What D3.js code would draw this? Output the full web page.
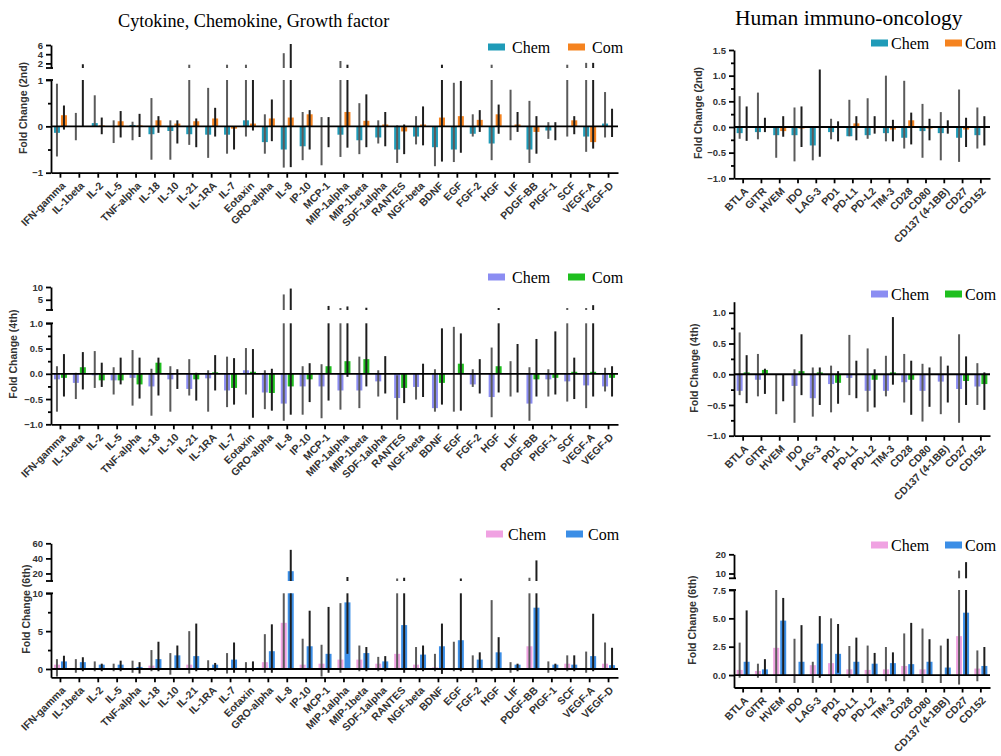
<!DOCTYPE html>
<html>
<head>
<meta charset="utf-8">
<script src="https://cdn.jsdelivr.net/npm/d3@7"></script>
<style>
  body { margin: 0; background: #fff; }
  svg { display: block; }
</style>
</head>
<body>
<svg id="chart"></svg>
<script>
// ---- categories ----
const cytoCats = ["IFN-gamma", "IL-1beta", "IL-2", "IL-5", "TNF-alpha", "IL-18", "IL-10", "IL-21",
  "IL-1RA", "IL-7", "Eotaxin", "GRO-alpha", "IL-8", "IP-10", "MCP-1", "MIP-1alpha", "MIP-1beta",
  "SDF-1alpha", "RANTES", "NGF-beta", "BDNF", "EGF", "FGF-2", "HGF", "LIF", "PDGF-BB", "PIGF-1",
  "SCF", "VEGF-A", "VEGF-D"];
const immunoCats = ["BTLA", "GITR", "HVEM", "IDO", "LAG-3", "PD1", "PD-L1", "PD-L2", "TIM-3",
  "CD28", "CD80", "CD137 (4-1BB)", "CD27", "CD152"];

// ---- cytokine panel, 2nd ----
const cyto2ChemMean = [-0.14, 0, 0.07, 0, 0.03, -0.17, -0.1, -0.17, -0.18, -0.18, 0.13, -0.34, -0.5, -0.43, 0, -0.18, -0.3, -0.24, -0.5, -0.22, -0.45, -0.5, -0.16, -0.37, 0, -0.5, -0.09, 0, -0.22, 0.06];
const cyto2ChemHi = [0.92, 0.29, 0.67, 0.13, 0.1, 0.61, 0.13, 1.5, 0.83, 1.5, 1.5, 0.26, 4.0, 0.31, 0.2, 2.3, 0.5, 0.13, 0.02, 0.22, 0, 0.94, 0.26, 1.5, 0.79, 0.55, 0.09, 1.5, 1.9, 0.74];
const cyto2ChemLo = [-0.65, -0.3, 0, -0.36, -0.3, -0.72, -0.72, -0.4, -0.68, -0.59, -0.22, -0.59, -0.89, -0.73, -0.84, -0.66, -0.6, -0.37, -0.79, -0.39, -0.86, -0.77, -0.22, -0.73, -0.3, -0.79, -0.27, -0.22, -0.55, -0.24];
const cyto2ComMean = [0.24, 0, 0.02, 0.11, 0.02, 0.13, 0.06, 0.11, 0.17, -0.05, 0.06, 0.17, 0.19, 0.26, 0, 0.31, 0.12, 0.04, -0.11, 0.04, 0.19, 0.22, 0.14, 0.26, 0.04, -0.12, 0, 0.13, -0.34, 0];
const cyto2ComHi = [0.45, 1.6, 0.19, 0.33, 0.27, 0.22, 0.13, 0.17, 0.4, 0, 1.0, 0.58, 6.0, 0.35, 0.2, 1.5, 0.69, 0.31, 0.04, 0.43, 1.5, 0.98, 0.35, 0.47, 0.31, 0.22, 0.09, 0.22, 1.9, 0.38];
const cyto2ComLo = [-0.07, 0, -0.17, -0.24, -0.23, -0.14, -0.37, -0.45, -0.22, -0.5, -0.09, -0.32, -0.88, -0.5, -0.45, -0.46, -0.45, -0.43, -0.6, -0.41, -0.76, -0.57, -0.12, -0.16, -0.12, -0.59, -0.3, -0.17, -0.48, -0.23];

// ---- cytokine panel, 4th ----
const cyto4ChemMean = [-0.11, -0.18, -0.03, -0.13, -0.08, -0.25, -0.11, -0.3, -0.09, -0.33, 0.07, -0.37, -0.59, -0.25, -0.25, -0.33, -0.33, -0.15, -0.48, -0.26, -0.68, 0, -0.21, -0.46, 0, -0.59, -0.11, -0.15, -0.23, -0.25];
const cyto4ChemHi = [0.15, 0.02, 0.45, 0.13, 0.47, 0.1, 0.15, 0.29, 0.07, 0.34, 0.51, 0.07, 6.7, 0.15, 0.19, 1.4, 0.34, 0.07, -0.03, 0, 0.09, 0.93, 0.09, 0.52, 0.25, 0.13, 0.09, 1.4, 1.4, 0.12];
const cyto4ChemLo = [-0.75, -0.5, -0.28, -0.41, -0.63, -0.83, -0.75, -0.43, -0.75, -0.66, -0.41, -0.7, -0.93, -0.81, -0.88, -0.71, -0.68, -0.45, -0.91, -0.51, -0.75, -0.75, -0.26, -0.86, -0.45, -0.93, -0.45, -0.55, -0.68, -0.35];
const cyto4ComMean = [-0.08, 0.13, -0.13, -0.13, -0.21, 0.22, 0, -0.11, 0.03, -0.28, 0.04, -0.38, -0.25, -0.11, 0.15, 0.25, 0.29, 0, -0.28, 0, -0.18, 0.2, 0, 0.15, 0, -0.11, -0.08, 0.04, 0.04, -0.08];
const cyto4ComHi = [0.39, 0.43, 0.22, 0.32, 0.32, 0.32, 0.09, 0.02, 0.37, 0.31, 0.49, 0.1, 9.0, 0.21, 2.2, 2.0, 1.5, 0.35, 0, 0.2, 0.9, 0.8, 0.29, 1.4, 0.59, 0.69, 0.84, 0.32, 2.5, 0.15];
const cyto4ComLo = [-0.45, -0.31, -0.26, -0.21, -0.49, -0.43, -0.3, -0.53, -0.33, -0.61, -0.87, -0.73, -0.81, -0.56, -0.53, -0.06, -0.25, -0.39, -0.58, -0.46, -0.61, -0.73, -0.39, -0.37, -0.37, -0.45, -0.41, -0.5, -0.45, -0.45];

// ---- cytokine panel, 6th ----
const cyto6ChemMean = [0.57, 0.1, 0.1, 0, 0, 0.45, 0, 0.57, 0, 0, 0, 0.9, 6.1, 0.57, 0.7, 1.24, 1.24, 0.7, 2.0, 0.57, 0.2, 0, 0, 0, 0, 3.0, 0, 0.7, 0, 0.7];
const cyto6ChemHi = [1.3, 1.3, 1.0, 0.7, 1.1, 2.5, 2.1, 5.0, 1.15, 2.1, 0.9, 4.6, 10, 4.0, 3.2, 8.7, 3.1, 1.6, 12, 2.9, 2.0, 3.6, 1.8, 9.1, 0.9, 13, 1.0, 1.8, 2.3, 3.5];
const cyto6ChemLo = [-1.0, -0.5, -0.3, -0.3, -0.5, -0.3, -0.75, -0.6, -0.3, -0.6, -0.5, -0.5, 0, 0, -1.0, -0.5, -0.3, -0.3, -0.1, -0.3, -0.3, -0.3, -0.5, -0.3, -0.5, 0, -0.5, -0.3, -0.5, -0.1];
const cyto6ComMean = [1.0, 0.9, 0.57, 0.57, 0.27, 1.3, 1.8, 1.7, 0.57, 1.24, 0, 2.35, 23, 3.0, 2.0, 8.8, 2.1, 1.0, 5.8, 1.9, 3.0, 3.8, 1.24, 2.2, 0.57, 8.1, 0.57, 0.57, 1.7, 0.5];
const cyto6ComHi = [1.75, 1.55, 0.7, 1.1, 0.9, 3.6, 3.1, 6.0, 0.8, 3.5, 1.0, 5.9, 50, 7.7, 8.2, 14, 2.9, 1.7, 13, 3.1, 6.0, 12, 2.2, 4.2, 0.7, 36, 0.7, 1.8, 7.3, 2.8];
const cyto6ComLo = [0, -0.3, -0.3, -0.3, -0.6, -0.3, -0.1, -0.3, -0.3, -0.5, -0.3, -0.5, 0, 0, -0.5, 2.0, -0.3, -0.3, -0.5, -0.3, -0.65, -0.3, 0, 0, -0.3, 0, -0.3, -0.3, -0.3, 0];

// ---- immuno-oncology panel, 2nd ----
const immu2ChemMean = [-0.12, -0.1, -0.16, -0.16, -0.36, -0.1, -0.18, -0.16, -0.12, -0.21, -0.08, -0.12, -0.21, -0.16];
const immu2ChemHi = [0.6, 0.67, 0, 0.38, 0, 0.16, 0.53, 0.56, 1.0, 0.9, 0.45, 0.29, 0.73, 0.38];
const immu2ChemLo = [-0.23, -0.24, -0.6, -0.67, -0.65, -0.24, -0.18, -0.23, -0.28, -0.42, -0.6, -0.65, -0.68, -0.42];
const immu2ComMean = [0, 0, -0.08, -0.03, 0, 0, 0.07, 0, -0.05, 0.13, -0.03, 0, -0.05, 0];
const immu2ComHi = [0.4, 0.18, 0.21, 0.4, 1.12, 0.11, 0.21, 0.21, 0.14, 0.28, 0.16, 0.13, 0.18, 0.21];
const immu2ComLo = [-0.27, -0.1, -0.19, -0.39, -0.58, -0.28, -0.26, -0.13, -0.28, -0.34, -0.26, -0.13, -0.39, -0.36];

// ---- immuno-oncology panel, 4th ----
const immu4ChemMean = [-0.27, -0.09, 0, -0.19, -0.39, -0.16, -0.06, -0.27, -0.27, -0.13, -0.27, -0.12, -0.24, -0.2];
const immu4ChemHi = [0.68, 0.33, 0, 0.08, 0.11, 0.14, 0.64, 0.42, 0.3, 0.33, 0.17, 0.29, 0.65, 0.18];
const immu4ChemLo = [-0.34, -0.36, -0.65, -0.79, -0.69, -0.62, -0.34, -0.61, -0.36, -0.46, -0.77, -0.65, -0.79, -0.5];
const immu4ComMean = [0.03, 0.07, 0, 0.05, 0.03, -0.14, 0, -0.09, 0.03, -0.09, 0, 0, -0.11, -0.16];
const immu4ComHi = [0.31, 0.09, 0, 0.65, 0.11, 0.05, 0.22, 0.08, 0.93, 0.22, 0.11, 0.14, 0.29, 0.03];
const immu4ComLo = [-0.47, -0.32, -0.44, -0.34, -0.5, -0.48, -0.39, -0.54, -0.17, -0.66, -0.53, -0.46, -0.5, -0.58];

// ---- immuno-oncology panel, 6th ----
const immu6ChemMean = [0.45, 0.36, 2.4, 0.05, 0.87, 1.05, 0.5, 0.45, 0.5, 0.8, 0.5, 0, 3.43, 0.57];
const immu6ChemHi = [2.86, 1.0, 7.5, 3.2, 1.17, 5.0, 2.56, 2.6, 2.47, 3.67, 4.1, 2.6, 11, 2.17];
const immu6ChemLo = [-0.24, -0.24, -0.7, -0.7, -0.7, -0.7, -0.24, -0.7, -0.55, -0.55, -0.7, -0.7, -0.84, -0.55];
const immu6ComMean = [1.17, 0.5, 4.8, 1.17, 2.77, 1.87, 1.17, 1.0, 1.05, 0.96, 1.17, 0.66, 5.5, 0.8];
const immu6ComHi = [5.7, 1.4, 6.8, 4.4, 5.2, 4.5, 3.3, 1.95, 2.0, 4.6, 3.16, 3.2, 15.4, 2.47];
const immu6ComLo = [0, 0, 0, 0, -0.24, 0.2, 0, 0, 0, 0, 0, 0, 0, 0];

// ---- tick labels ----
const cyto2LowTicks = [-1, 0, 1];
const cyto2UpTicks = [2, 4, 6];
const cyto4LowTicks = [-1, -0.5, 0, 0.5, 1];
const cyto4UpTicks = [5, 10];
const cyto6LowTicks = [0, 5, 10];
const cyto6UpTicks = [20, 40, 60];
const immu2Ticks = [-1, -0.5, 0, 0.5, 1, 1.5];
const immu4Ticks = [-1, -0.5, 0, 0.5, 1];
const immu6LowTicks = [0, 2.5, 5, 7.5];
const immu6UpTicks = [10, 20];

const WIDTH = 1001;
const HEIGHT = 756;
const BAR_W = 6;
const SANS = "'Liberation Sans', Arial, sans-serif";
const SERIF = "'Liberation Serif', 'Times New Roman', serif";
const ERR_CHEM = "#5a5a5a";
const ERR_COM = "#1e1e1e";

const svg = d3.select("#chart").attr("width", WIDTH).attr("height", HEIGHT);

// titles
svg.append("text").attr("x", 118).attr("y", 27)
  .style("font-family", SERIF).style("font-size", "18.2px").text("Cytokine, Chemokine, Growth factor");
svg.append("text").attr("x", 735).attr("y", 25)
  .style("font-family", SERIF).style("font-size", "21.5px").text("Human immuno-oncology");

function styleAxis(sel) {
  sel.selectAll("path, line").attr("stroke", "#000").attr("stroke-width", 1.8);
  sel.selectAll("text")
    .style("font-family", SANS).style("font-weight", "bold")
    .style("font-size", "9.5px").attr("fill", "#333");
}

function drawPanel(p) {
  const g = svg.append("g");
  const x = d3.scaleBand().domain(p.cats).range(p.xRange);
  const yLow = d3.scaleLinear().domain(p.low).range(p.lowRange);
  const yUp = p.up ? d3.scaleLinear().domain(p.up).range(p.upRange) : null;
  const lowMax = p.low[1];
  const cx = (i) => x(p.cats[i]) + x.bandwidth() / 2;
  const x0 = p.xRange[0];

  // bars + error bars for each series
  p.series.forEach((s, k) => {
    const off = k === 0 ? -BAR_W - 0.5 : 0.5;
    const rows = s.mean.map((m, i) => ({ i, m, hi: s.hi[i], lo: s.lo[i] }));
    const sg = g.append("g");

    sg.selectAll(".bar-low").data(rows).join("rect")
      .attr("class", "bar-low")
      .attr("x", (d) => cx(d.i) + off)
      .attr("width", BAR_W)
      .attr("y", (d) => yLow(Math.max(Math.min(d.m, lowMax), 0)))
      .attr("height", (d) => Math.abs(yLow(Math.min(d.m, lowMax)) - yLow(0)))
      .attr("fill", s.color);

    if (yUp) {
      sg.selectAll(".bar-up").data(rows.filter((d) => d.m > lowMax)).join("rect")
        .attr("class", "bar-up")
        .attr("x", (d) => cx(d.i) + off)
        .attr("width", BAR_W)
        .attr("y", (d) => yUp(d.m))
        .attr("height", (d) => yUp(p.up[0]) - yUp(d.m))
        .attr("fill", s.color);
    }

    sg.selectAll(".err-low").data(rows).join("line")
      .attr("class", "err-low")
      .attr("x1", (d) => cx(d.i) + off + BAR_W / 2)
      .attr("x2", (d) => cx(d.i) + off + BAR_W / 2)
      .attr("y1", (d) => yLow(d.lo))
      .attr("y2", (d) => yLow(Math.min(d.hi, lowMax)))
      .attr("stroke", s.err)
      .attr("stroke-width", 2);

    if (yUp) {
      sg.selectAll(".err-up").data(rows.filter((d) => d.hi > lowMax)).join("line")
        .attr("class", "err-up")
        .attr("x1", (d) => cx(d.i) + off + BAR_W / 2)
        .attr("x2", (d) => cx(d.i) + off + BAR_W / 2)
        .attr("y1", (d) => yUp(p.up[0]))
        .attr("y2", (d) => yUp(Math.min(d.hi, p.up[1])) - 1)
        .attr("stroke", s.err)
        .attr("stroke-width", 2);
    }
  });

  // zero line
  g.append("line")
    .attr("x1", x0).attr("x2", p.xRange[1])
    .attr("y1", yLow(0)).attr("y2", yLow(0))
    .attr("stroke", "#000").attr("stroke-width", 1.8);

  // y axis (lower segment)
  g.append("g").attr("transform", `translate(${x0},0)`)
    .call(d3.axisLeft(yLow).tickValues(p.lowTicks).tickFormat(d3.format(p.fmt))
      .tickSize(5).tickSizeOuter(0))
    .call(styleAxis);

  if (p.minor) {
    g.append("g").attr("transform", `translate(${x0},0)`)
      .call(d3.axisLeft(yLow).tickValues(p.minor).tickFormat("").tickSize(3))
      .call((a) => a.select(".domain").remove())
      .call(styleAxis);
  }

  if (yUp) {
    g.append("g").attr("transform", `translate(${x0},0)`)
      .call(d3.axisLeft(yUp).tickValues(p.upTicks).tickFormat(d3.format("d"))
        .tickSize(5).tickSizeOuter(0))
      .call(styleAxis);
    // break marks
    [yUp(p.up[0]), yLow(lowMax)].forEach((yy) => {
      g.append("line")
        .attr("x1", x0 - 5).attr("x2", x0 + 2)
        .attr("y1", yy).attr("y2", yy)
        .attr("stroke", "#000").attr("stroke-width", 1.8);
    });
  }

  // x axis
  g.append("g").attr("transform", `translate(0,${p.lowRange[0]})`)
    .call(d3.axisBottom(x).tickSize(5).tickSizeOuter(0))
    .call(styleAxis)
    .selectAll("text")
    .attr("x", 0).attr("y", 0).attr("dy", "0.35em")
    .attr("text-anchor", "end")
    .attr("transform", "translate(3,11) rotate(-45)")
    .style("font-size", "10.5px");

  // y title
  g.append("text")
    .attr("transform", `translate(${p.titleX},${p.titleY}) rotate(-90)`)
    .attr("text-anchor", "middle")
    .style("font-family", SANS).style("font-weight", "bold").style("font-size", "10.5px")
    .attr("fill", "#333")
    .text(p.yTitle);

  // legend: [x, y, gap between entries, text offset]
  const [lgx, lgy, gap, tOff] = p.legend;
  const lg = g.append("g").attr("transform", `translate(${lgx},${lgy})`);
  p.series.forEach((s, k) => {
    const lx = k * gap;
    lg.append("rect").attr("x", lx).attr("y", -3.5).attr("width", 17).attr("height", 7)
      .attr("fill", s.color);
    lg.append("text").attr("x", lx + tOff).attr("y", 5.5)
      .style("font-family", SERIF).style("font-size", "16px")
      .text(s.name);
  });
}

const TEAL = "#1f9bb8", ORANGE = "#f5831f";
const VIOLET = "#8b8df2", GREEN = "#1fbf1f";
const PINK = "#f0a2e2", BLUE = "#3b8ee6";

drawPanel({
  cats: cytoCats, xRange: [51, 618],
  low: [-1, 1], lowRange: [172.7, 80], lowTicks: cyto2LowTicks, minor: [-0.5, 0.5], fmt: "d",
  up: [1, 6], upRange: [68, 45], upTicks: cyto2UpTicks,
  yTitle: "Fold Change (2nd)", titleX: 27, titleY: 108,
  legend: [488, 47, 80, 24],
  series: [
    { name: "Chem", color: TEAL, err: ERR_CHEM, mean: cyto2ChemMean, hi: cyto2ChemHi, lo: cyto2ChemLo },
    { name: "Com", color: ORANGE, err: ERR_COM, mean: cyto2ComMean, hi: cyto2ComHi, lo: cyto2ComLo },
  ],
});

drawPanel({
  cats: cytoCats, xRange: [51, 618],
  low: [-1, 1], lowRange: [424.3, 323.3], lowTicks: cyto4LowTicks,
  minor: [-0.75, -0.25, 0.25, 0.75], fmt: ".1f",
  up: [1, 10], upRange: [310, 287], upTicks: cyto4UpTicks,
  yTitle: "Fold Change (4th)", titleX: 17, titleY: 354,
  legend: [488, 277, 80, 24],
  series: [
    { name: "Chem", color: VIOLET, err: ERR_CHEM, mean: cyto4ChemMean, hi: cyto4ChemHi, lo: cyto4ChemLo },
    { name: "Com", color: GREEN, err: ERR_COM, mean: cyto4ComMean, hi: cyto4ComHi, lo: cyto4ComLo },
  ],
});

drawPanel({
  cats: cytoCats, xRange: [51, 618],
  low: [-1.1, 10], lowRange: [677.3, 593.3], lowTicks: cyto6LowTicks, minor: [2.5, 7.5], fmt: "d",
  up: [10, 60], upRange: [581, 543.3], upTicks: cyto6UpTicks,
  yTitle: "Fold Change (6th)", titleX: 30, titleY: 609,
  legend: [486, 534, 80, 22],
  series: [
    { name: "Chem", color: PINK, err: ERR_CHEM, mean: cyto6ChemMean, hi: cyto6ChemHi, lo: cyto6ChemLo },
    { name: "Com", color: BLUE, err: ERR_COM, mean: cyto6ComMean, hi: cyto6ComHi, lo: cyto6ComLo },
  ],
});

drawPanel({
  cats: immunoCats, xRange: [734, 990],
  low: [-1, 1.5], lowRange: [178.3, 50], lowTicks: immu2Ticks,
  minor: [-0.75, -0.25, 0.25, 0.75, 1.25], fmt: ".1f",
  yTitle: "Fold Change (2nd)", titleX: 702, titleY: 113,
  legend: [871, 43, 74, 20],
  series: [
    { name: "Chem", color: TEAL, err: ERR_CHEM, mean: immu2ChemMean, hi: immu2ChemHi, lo: immu2ChemLo },
    { name: "Com", color: ORANGE, err: ERR_COM, mean: immu2ComMean, hi: immu2ComHi, lo: immu2ComLo },
  ],
});

drawPanel({
  cats: immunoCats, xRange: [734, 990],
  low: [-1, 1.18], lowRange: [435.7, 301.7], lowTicks: immu4Ticks,
  minor: [-0.75, -0.25, 0.25, 0.75], fmt: ".1f",
  yTitle: "Fold Change (4th)", titleX: 698, titleY: 368,
  legend: [871, 294, 74, 20],
  series: [
    { name: "Chem", color: VIOLET, err: ERR_CHEM, mean: immu4ChemMean, hi: immu4ChemHi, lo: immu4ChemLo },
    { name: "Com", color: GREEN, err: ERR_COM, mean: immu4ComMean, hi: immu4ComHi, lo: immu4ComLo },
  ],
});

drawPanel({
  cats: immunoCats, xRange: [734, 990],
  low: [-1.1, 7.5], lowRange: [687.5, 590], lowTicks: immu6LowTicks, fmt: ".1f",
  up: [7.5, 20], upRange: [578.3, 554.3], upTicks: immu6UpTicks,
  yTitle: "Fold Change (6th)", titleX: 696, titleY: 620,
  legend: [871, 545, 74, 20],
  series: [
    { name: "Chem", color: PINK, err: ERR_CHEM, mean: immu6ChemMean, hi: immu6ChemHi, lo: immu6ChemLo },
    { name: "Com", color: BLUE, err: ERR_COM, mean: immu6ComMean, hi: immu6ComHi, lo: immu6ComLo },
  ],
});
</script>
</body>
</html>
